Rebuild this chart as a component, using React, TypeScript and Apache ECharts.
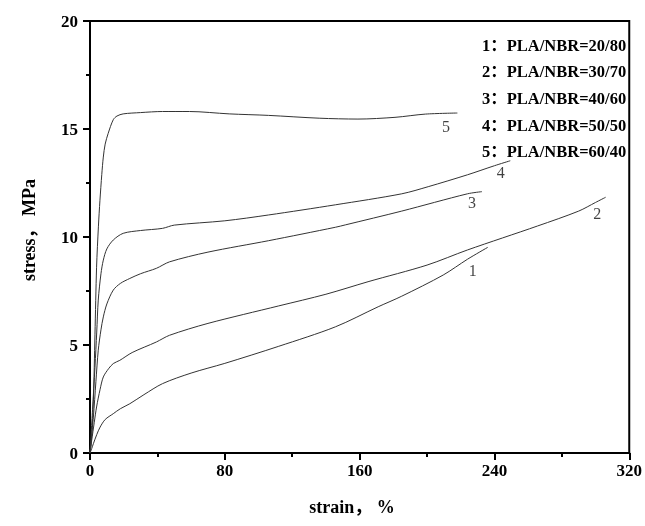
import React, { useEffect, useRef } from "react";
import * as echarts from "echarts";

const curve1: [number, number][] = [
  [0, 0], [1, 0.2], [2, 0.43], [4, 0.85], [6, 1.2], [9, 1.55], [13.8, 1.82], [18, 2.05],
  [23.6, 2.28], [32, 2.7], [43, 3.21], [60, 3.7], [80, 4.15], [112, 4.94], [145.6, 5.84],
  [171, 6.77], [185, 7.26], [209.6, 8.24], [224, 8.97], [236, 9.52],
];
const curve2: [number, number][] = [
  [0, 0], [1, 0.58], [2.5, 1.4], [3.9, 2.13], [6, 2.95], [7.9, 3.52], [11, 3.9], [13.8, 4.14],
  [17.7, 4.29], [25, 4.65], [39.4, 5.14], [47.2, 5.45], [70, 6.0], [112, 6.81], [140, 7.35],
  [165, 7.93], [200, 8.7], [224, 9.4], [265.6, 10.51], [290, 11.2], [300, 11.6], [306, 11.84],
];
const curve3: [number, number][] = [
  [0, 0], [2, 1.66], [3.5, 3.3], [4.9, 4.76], [6.5, 5.7], [7.9, 6.3], [10, 6.9], [13.8, 7.54],
  [18, 7.85], [23.6, 8.08], [30, 8.3], [39.4, 8.55], [47.2, 8.85], [70, 9.3], [106, 9.83],
  [145.6, 10.45], [151.5, 10.56], [185, 11.2], [224, 12.0], [232.6, 12.1],
];
const curve4: [number, number][] = [
  [0, 0], [1.5, 2], [2.95, 3.98], [4, 5.6], [4.9, 7.08], [6.5, 8.3], [7.9, 8.93], [10, 9.45],
  [13.8, 9.86], [19.7, 10.17], [30, 10.3], [43, 10.4], [50, 10.55], [80, 10.75], [106, 11.02],
  [145.6, 11.49], [185, 12.0], [200.7, 12.33], [224, 12.88], [240, 13.3], [249.4, 13.53],
];
const curve5: [number, number][] = [
  [0, 0], [1, 0.8], [2, 2.4], [2.95, 5.5], [3.9, 8.6], [5, 10.5], [5.9, 11.7], [7, 12.9],
  [7.9, 13.7], [9, 14.3], [10.8, 14.8], [13.8, 15.43], [16, 15.6], [19.7, 15.7], [30, 15.76],
  [43, 15.81], [59, 15.81], [82.6, 15.7], [106, 15.63], [136, 15.5], [159, 15.46],
  [181, 15.54], [199, 15.69], [218, 15.74],
];
const curves = [curve1, curve2, curve3, curve4, curve5];

const curveLabels: [number, number, string][] = [
  [227.1, 8.47, "1"],
  [301, 11.11, "2"],
  [226.7, 11.58, "3"],
  [243.8, 12.97, "4"],
  [211.3, 15.1, "5"],
];

const legendTexts = [
  "1：PLA/NBR=20/80",
  "2：PLA/NBR=30/70",
  "3：PLA/NBR=40/60",
  "4：PLA/NBR=50/50",
  "5：PLA/NBR=60/40",
];

const xTitle = "strain， %";
const yTitle = "stress， MPa";

const xTicks = [0, 80, 160, 240, 320];
const yTicks = [0, 5, 10, 15, 20];

const SERIF = "Liberation Serif";
const TITLE_FONT = `bold 18px '${SERIF}', 'Noto Sans CJK SC', serif`;
const LEGEND_FONT = `bold 16.5px '${SERIF}', 'Noto Sans CJK SC', serif`;

export default function App() {
  const ref = useRef<HTMLDivElement>(null);
  useEffect(() => {
    if (!ref.current) return;
    const chart = echarts.init(ref.current, null, { renderer: "svg" });
    const xMin = xTicks[0];
    const xMax = xTicks[xTicks.length - 1];
    const yMin = yTicks[0];
    const yMax = yTicks[yTicks.length - 1];
    chart.setOption({
      animation: false,
      grid: { left: 90, top: 21, width: 542, height: 432 },
      xAxis: {
        type: "value",
        min: xMin,
        max: xMax,
        interval: 80,
        axisLine: { show: true, lineStyle: { color: "#000", width: 2 } },
        axisTick: { show: true, length: 7, lineStyle: { color: "#000", width: 2 } },
        minorTick: { show: true, splitNumber: 2, length: 4, lineStyle: { color: "#000", width: 2 } },
        splitLine: { show: false },
        axisLabel: { color: "#000", fontWeight: "bold", fontSize: 17, fontFamily: SERIF, margin: 9 },
      },
      yAxis: {
        type: "value",
        min: yMin,
        max: yMax,
        interval: 5,
        axisLine: { show: true, lineStyle: { color: "#000", width: 2 } },
        axisTick: { show: true, length: 7, lineStyle: { color: "#000", width: 2 } },
        minorTick: { show: true, splitNumber: 2, length: 4, lineStyle: { color: "#000", width: 2 } },
        splitLine: { show: false },
        axisLabel: { color: "#000", fontWeight: "bold", fontSize: 17, fontFamily: SERIF, margin: 12 },
      },
      series: [
        ...curves.map((c) => ({
          type: "line",
          data: c,
          showSymbol: false,
          smooth: 0.3,
          lineStyle: { color: "#333", width: 1 },
        })),
        {
          type: "scatter",
          data: curveLabels,
          symbolSize: 1,
          itemStyle: { color: "rgba(0,0,0,0)" },
          label: {
            show: true,
            position: "inside",
            formatter: (p: any) => p.value[2],
            color: "#111",
            fontFamily: SERIF,
            fontSize: 16,
          },
        },
      ],
    });

    // frame (top and right sides of the plot box), through the axes' scales
    const topLeft = chart.convertToPixel({ gridIndex: 0 }, [xMin, yMax]) as number[];
    const topRight = chart.convertToPixel({ gridIndex: 0 }, [xMax, yMax]) as number[];
    const bottomRight = chart.convertToPixel({ gridIndex: 0 }, [xMax, yMin]) as number[];

    chart.setOption({
      graphic: [
        {
          type: "polyline",
          shape: { points: [topLeft, topRight, bottomRight] },
          style: { stroke: "#000", lineWidth: 2, fill: "none" },
          z: 10,
        },
        ...legendTexts.map((t, i) => ({
          type: "text",
          x: 482,
          y: 45 + i * 26.7,
          style: {
            text: t,
            fill: "#000",
            font: LEGEND_FONT,
            verticalAlign: "middle",
            align: "left",
          },
        })),
        {
          type: "text",
          x: 352,
          y: 507,
          style: { text: xTitle, fill: "#000", font: TITLE_FONT, align: "center", verticalAlign: "middle" },
        },
        {
          type: "text",
          x: 29,
          y: 230,
          rotation: Math.PI / 2,
          style: { text: yTitle, fill: "#000", font: TITLE_FONT, align: "center", verticalAlign: "middle" },
        },
      ],
    });
    return () => chart.dispose();
  }, []);
  return (
    <div
      ref={ref}
      style={{ position: "fixed", left: 0, top: 0, width: 645, height: 526 }}
    />
  );
}
